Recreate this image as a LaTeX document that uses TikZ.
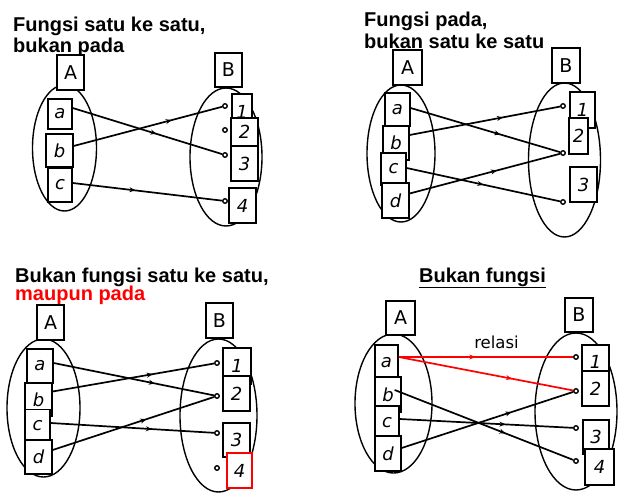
\documentclass[tikz,border=0pt]{standalone}
\usepackage{fontspec}
\setmainfont{Liberation Sans}
\newfontfamily\elemfont{DejaVu Sans}
\usetikzlibrary{arrows.meta,decorations.markings}

\begin{document}
\begin{tikzpicture}[x=1pt,y=-1pt,
    elem/.style 2 args={draw,fill=white,line width=1.3pt,inner sep=0pt,
      minimum width=#1,minimum height=#2,font=\elemfont\fontsize{18}{18}\selectfont\itshape},
    setname/.style 2 args={elem={#1}{#2},font=\elemfont\fontsize{19}{19}\selectfont},
    heading/.style={anchor=base west,inner sep=0pt,font=\fontsize{20}{22}\selectfont\bfseries},
    pt/.style={circle,draw,fill=white,line width=1.4pt,inner sep=0pt,minimum size=4.5pt},
    conn/.style={line width=1.7pt,decoration={markings,
      mark=at position #1 with {\arrow{Stealth[length=6pt,width=5pt]}}},postaction={decorate}},
    conn/.default=0.6,
    setline/.style={line width=1.4pt}]
    \path[use as bounding box,fill=white] (0,0) rectangle (624,500);

    % Fungsi satu ke satu, bukan pada
    \node[heading] (t1a) at (13,32) {Fungsi satu ke satu,};
    \node[heading] (t1b) at (13,53) {bukan pada};
    \draw[setline] (64.5,148) ellipse [x radius=32,y radius=63];
    \draw[setline] (226,157) ellipse [x radius=36,y radius=69];
    \node[setname={27pt}{35pt}] (A1) at (70.5,72.5) {A};
    \node[elem={24pt}{30pt}] (a1) at (60,114) {a};
    \node[elem={27pt}{33pt}] (b1) at (59.5,150.5) {b};
    \node[elem={24pt}{34pt}] (c1) at (60,185) {c};
    \node[setname={27pt}{34pt}] (B1) at (228.5,70) {B};
    \node[elem={20pt}{36pt}] (n11) at (242,112) {1};
    \node[elem={27pt}{28pt}] (n12) at (244.5,132) {2};
    \node[elem={27pt}{35pt}] (n13) at (244.5,163.5) {3};
    \node[elem={27pt}{35pt}] (n14) at (242.5,205.5) {4};
    \foreach \y [count=\i] in {106,130,155,201}
      \node[pt] (p1\i) at (225,\y) {};
    \draw[conn=0.56] ([yshift=6pt]a1.east) -- (p13);
    \draw[conn=0.66] ([yshift=4.5pt]b1.east) -- (p11);
    \draw[conn=0.42] ([yshift=2pt]c1.east) -- (p14);

    % Fungsi pada, bukan satu ke satu
    \node[heading] (t2a) at (364,27) {Fungsi pada,};
    \node[heading] (t2b) at (364,49) {bukan satu ke satu};
    \draw[setline] (401,153.5) ellipse [x radius=34,y radius=68.5];
    \draw[setline] (564.5,160) ellipse [x radius=36,y radius=77];
    \node[setname={29pt}{35pt}] (A2) at (407.5,67.5) {A};
    \node[elem={25pt}{33pt}] (a2) at (397.5,109.5) {a};
    \node[elem={26pt}{34pt}] (b2) at (396,143) {b};
    \node[elem={25pt}{32pt}] (c2) at (393.5,169) {c};
    \node[elem={27pt}{35pt}] (d2) at (395.5,200.5) {d};
    \node[setname={28pt}{35pt}] (B2) at (566,65.5) {B};
    \node[elem={25pt}{36pt}] (n21) at (582.5,110) {1};
    \node[elem={19pt}{36pt}] (n22) at (578.5,136) {2};
    \node[elem={27pt}{35pt}] (n23) at (583.5,184.5) {3};
    \foreach \y [count=\i] in {106,153,202}
      \node[pt] (p2\i) at (563,\y) {};
    \draw[conn=0.6] ([yshift=1.5pt]a2.east) -- (p22);
    \draw[conn=0.62] ([yshift=8pt]b2.east) -- (p21);
    \draw[conn=0.5] ([yshift=1pt]c2.east) -- (p23);
    \draw[conn=0.58] ([yshift=7pt]d2.east) -- (p22);

    % Bukan fungsi satu ke satu, maupun pada
    \node[heading] (t3a) at (15,282) {Bukan fungsi satu ke satu,};
    \node[heading,text=red] (t3b) at (15,300) {maupun pada};
    \draw[setline] (43.5,408) ellipse [x radius=36.5,y radius=69];
    \draw[setline] (218.5,415.5) ellipse [x radius=38.5,y radius=76.5];
    \node[setname={27pt}{35pt}] (A3) at (50.5,322.5) {A};
    \node[elem={26pt}{34pt}] (a3) at (40,366) {a};
    \node[elem={27pt}{33pt}] (b3) at (38.5,399.5) {b};
    \node[elem={25pt}{33pt}] (c3) at (37.5,426) {c};
    \node[elem={27pt}{34pt}] (d3) at (38.5,457) {d};
    \node[setname={27pt}{35pt}] (B3) at (219.5,320.5) {B};
    \node[elem={28pt}{36pt}] (n31) at (237,366) {1};
    \node[elem={27pt}{35pt}] (n32) at (236.5,393.5) {2};
    \node[elem={27pt}{34pt}] (n33) at (236.5,440) {3};
    \node[elem={25pt}{35pt},draw=red] (n34) at (239.5,470.5) {4};
    \foreach \y [count=\i] in {363,396,433,468}
      \node[pt] (p3\i) at (217,\y) {};
    \draw[conn=0.63] ([yshift=3pt]a3.east) -- (p32);
    \draw[conn=0.62] ([yshift=8pt]b3.east) -- (p31);
    \draw[conn=0.62] ([yshift=3pt]c3.east) -- (p33);
    \draw[conn=0.58] ([yshift=7pt]d3.east) -- (p32);

    % Bukan fungsi
    \node[heading] (t4) at (419,282) {\underline{Bukan fungsi}};
    \draw[setline] (393.5,403.5) ellipse [x radius=38.5,y radius=69.5];
    \draw[setline] (576,411.5) ellipse [x radius=41,y radius=78.5];
    \node[setname={29pt}{34pt}] (A4) at (400.5,318) {A};
    \node[elem={23pt}{36pt}] (a4) at (386.5,363) {a};
    \node[elem={26pt}{35pt}] (b4) at (388,394.5) {b};
    \node[elem={24pt}{34pt}] (c4) at (387,423) {c};
    \node[elem={26pt}{35pt}] (d4) at (388,453.5) {d};
    \node[setname={28pt}{34pt}] (B4) at (579,315) {B};
    \node[elem={27pt}{34pt}] (n41) at (595.5,362) {1};
    \node[elem={27pt}{35pt}] (n42) at (595.5,388.5) {2};
    \node[elem={26pt}{34pt}] (n43) at (596,437) {3};
    \node[elem={29pt}{36pt}] (n44) at (599.5,467) {4};
    \foreach \y [count=\i] in {357,391,428,461}
      \node[pt] (p4\i) at (576,\y) {};
    \node[anchor=base,font=\elemfont\fontsize{16.5}{16.5}\selectfont] (rel) at (496.5,348) {relasi};
    \draw[conn=0.44,red] ([yshift=6pt]a4.east) -- (p41);
    \draw[conn=0.65,red] ([yshift=6pt]a4.east) -- (p42);
    \draw[conn=0.62] ([xshift=-7pt,yshift=4.5pt]b4.east) -- (p44);
    \draw[conn=0.61] ([yshift=4pt]c4.east) -- (p43);
    \draw[conn=0.64] ([yshift=5.5pt]d4.east) -- (p42);
\end{tikzpicture}
\end{document}
